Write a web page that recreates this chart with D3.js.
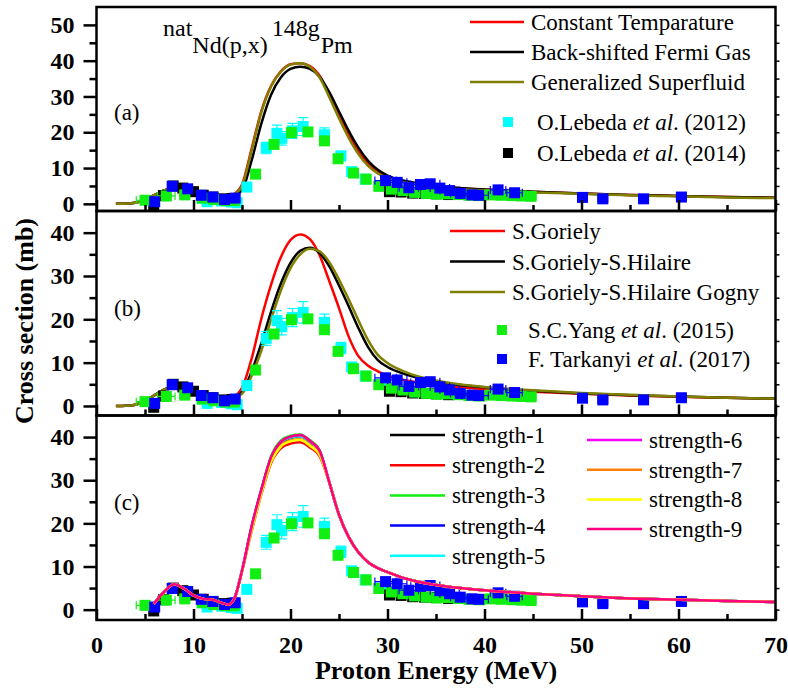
<!DOCTYPE html>
<html>
<head>
<meta charset="utf-8">
<script src="https://cdn.jsdelivr.net/npm/d3@7"></script>
<style>
  body { margin: 0; background: #fff; }
</style>
</head>
<body>
<div id="chart"></div>
<script>
// ---------------- data ----------------
// model curves, panels (a) and (b)
var gridAB = [2, 3, 4, 5, 6, 7, 8, 9, 10, 11, 12, 13, 14, 15, 16, 17, 18, 19, 20, 21, 22, 23, 24, 25, 26, 27, 28, 29, 30, 32, 35, 40, 45, 50, 55, 60, 65, 70]

var constTempY = [0, 0.05, 0.3, 1.2, 2.5, 3.8, 4.6, 4.0, 3.0, 2.3, 1.8, 1.6, 2.4, 5.4, 15.5, 26.0, 33.0, 37.0, 39.0, 39.3, 38.5, 35.8, 30.6, 24.8, 19.2, 14.6, 11.2, 9.0, 7.6, 6.1, 4.9, 4.0, 3.4, 2.9, 2.5, 2.2, 1.9, 1.7]
var bsfgY = [0, 0.05, 0.3, 1.2, 2.5, 3.8, 4.6, 4.0, 3.0, 2.3, 1.8, 1.6, 2.1, 3.8, 12.2, 22.5, 30.5, 35.3, 37.7, 38.3, 37.7, 35.5, 31.2, 25.8, 20.4, 15.7, 12.0, 9.5, 7.9, 6.3, 5.0, 4.0, 3.4, 2.9, 2.5, 2.2, 1.9, 1.7]
var gsmY = [0, 0.05, 0.3, 1.2, 2.5, 3.8, 4.6, 4.0, 3.0, 2.3, 1.8, 1.6, 2.3, 5.0, 15.0, 25.6, 32.8, 36.9, 38.9, 39.3, 38.3, 35.3, 29.8, 23.9, 18.4, 13.9, 10.6, 8.5, 7.2, 5.8, 4.6, 3.8, 3.2, 2.8, 2.4, 2.1, 1.8, 1.6]

var gorielyY = [0, 0.05, 0.3, 1.2, 2.5, 3.8, 4.6, 4.0, 3.0, 2.3, 1.8, 1.6, 2.0, 4.2, 11.0, 20.2, 28.0, 34.3, 38.3, 39.6, 38.5, 34.8, 28.8, 22.6, 16.0, 11.5, 9.3, 8.0, 7.0, 5.9, 4.9, 3.9, 3.3, 2.8, 2.4, 2.1, 1.9, 1.7]
var gorielyHilaireY = [0, 0.05, 0.3, 1.2, 2.5, 3.8, 4.6, 4.0, 3.0, 2.3, 1.8, 1.6, 1.9, 3.2, 8.0, 14.5, 21.8, 28.2, 33.0, 35.8, 36.5, 35.3, 32.2, 27.8, 23.0, 18.0, 13.6, 10.6, 9.0, 7.2, 5.6, 4.3, 3.5, 2.9, 2.5, 2.2, 1.9, 1.7]
var gognyY = [0, 0.05, 0.3, 1.2, 2.5, 3.8, 4.6, 4.0, 3.0, 2.3, 1.8, 1.6, 1.8, 2.8, 7.0, 12.8, 20.0, 26.6, 31.8, 35.0, 36.3, 35.7, 33.2, 29.2, 24.6, 19.8, 15.2, 11.8, 9.9, 7.7, 5.9, 4.4, 3.6, 3.0, 2.6, 2.2, 1.9, 1.7]

// model curves, panel (c): shared low / tail parts, peak part per strength
var gridC = [5.9, 7, 8, 9, 10, 11, 12, 13, 13.6, 14.2, 15, 16, 17, 18, 19, 20, 21, 22, 23, 24, 25, 26, 27, 28, 29, 30, 32, 35, 40, 45, 50, 55, 60, 65, 70]
var strengthLow = [1.3, 4.2, 5.9, 4.9, 3.3, 2.5, 2.3, 1.5, 1.2, 2.5, 9.0]            // 5.9 .. 15
var strengthPeak = [                                                            // 16 .. 23
  [19.0, 27.5, 35.0, 38.6, 39.8, 40.2, 38.8, 36.5],
  [18.3, 26.8, 34.0, 37.4, 38.5, 38.8, 37.6, 35.6],
  [19.5, 28.0, 35.6, 39.2, 40.3, 40.6, 39.3, 37.0],
  [19.2, 27.7, 35.2, 38.8, 40.0, 40.4, 39.0, 36.7],
  [19.1, 27.6, 35.1, 38.7, 39.9, 40.2, 38.9, 36.6],
  [19.3, 27.8, 35.3, 38.9, 40.1, 40.5, 39.1, 36.8],
  [18.7, 27.2, 34.5, 38.0, 39.2, 39.5, 38.2, 36.0],
  [18.5, 27.0, 34.3, 37.8, 39.0, 39.3, 38.0, 35.9],
  [19.3, 27.8, 35.3, 38.9, 40.1, 40.5, 39.1, 36.8]
]
var strengthTail = [29.5, 22.0, 16.8, 13.3, 11.0, 9.6, 8.7, 7.1, 5.7, 4.5, 3.7, 3.1, 2.6, 2.3, 2.0, 1.8]  // 24 .. 70
var strengthNames = ['strength-1', 'strength-2', 'strength-3', 'strength-4', 'strength-5', 'strength-6', 'strength-7', 'strength-8', 'strength-9']
var strengthColors = ['#000000', '#ff0000', '#11ee11', '#0000ff', '#00ffff', '#ff00ff', '#ff8000', '#ffff00', '#ff0080']

// experimental data
var lebeda2012E = [10.9, 11.4, 12.9, 13.9, 14.5, 15.5, 17.5, 18.6, 19.1, 20.2, 21.3, 23.5, 25.2, 26.3, 27.7, 29.3, 30.9]
var lebeda2012Y = [1.6, 0.6, 0.8, 0.5, 0.3, 4.7, 15.6, 19.7, 18.3, 20.4, 21.6, 19.3, 13.4, 9.0, 6.9, 5.0, 4.2]
var lebeda2012Err = [0.2, 0.1, 0.1, 0.1, 0.1, 0.5, 1.6, 2.3, 1.9, 2.1, 2.5, 1.9, 1.3, 0.9, 0.7, 0.5, 0.4]

var lebeda2014E = [5.9, 6.9, 7.9, 8.9, 10.0, 11.0, 12.0, 13.0, 14.0, 30.2, 31.4, 32.6, 33.8, 35.0, 36.3]
var lebeda2014Y = [-0.3, 2.3, 5.0, 4.4, 3.4, 2.4, 1.9, 1.4, 1.5, 3.4, 3.3, 3.0, 2.9, 2.8, 2.6]

var yang2015E = [5.0, 7.2, 9.1, 10.9, 12.1, 13.3, 14.2, 16.4, 18.3, 20.1, 21.8, 23.5, 24.9, 26.5, 27.8, 29.1, 30.4, 31.6, 32.8, 34.0, 35.1, 36.2, 37.3, 38.4, 39.5, 40.6, 41.7, 42.8, 43.8, 44.8]
var yang2015Y = [1.0, 2.2, 2.5, 1.6, 1.2, 0.9, 0.9, 8.3, 16.6, 19.9, 20.1, 17.6, 12.6, 8.6, 6.9, 4.9, 4.1, 3.7, 3.2, 2.9, 2.7, 2.8, 2.6, 2.4, 2.3, 2.5, 2.4, 2.3, 2.2, 2.1]
var yang2015XErr = [0.9, 0.9, 0.5, 0.4, 0.4, 0.3, 0.3, 0.3, 0.3, 0.3, 0.3, 0.3, 0.3, 0.3, 0.3, 0.4, 0.5, 0.5, 0.5, 0.5, 0.5, 0.5, 0.5, 0.5, 0.5, 0.5, 0.5, 0.5, 0.5, 0.5]

var tarkanyi2017E = [6.0, 7.8, 9.4, 10.8, 12.0, 13.2, 14.3, 29.8, 31.0, 32.2, 33.4, 34.4, 35.4, 36.4, 37.5, 38.7, 39.4, 41.4, 43.1, 50.1, 52.2, 56.4, 60.3]
var tarkanyi2017Y = [0.6, 4.9, 4.2, 2.4, 1.9, 1.2, 1.6, 6.5, 6.0, 4.5, 5.4, 5.6, 4.4, 3.7, 2.9, 2.5, 2.4, 3.9, 3.1, 1.8, 1.4, 1.4, 1.9]
var tarkanyi2017XErr = [0.4, 0.4, 0.4, 0.4, 0.4, 0.4, 0.4, 1.1, 1.0, 1.0, 1.0, 1.0, 1.0, 1.0, 1.0, 1.0, 1.0, 0.8, 0.8, 0.5, 0.5, 0.5, 0.5]

// ---------------- layout ----------------
var FONT = "'Liberation Serif'"
var W = 788, H = 689
var x = d3.scaleLinear().domain([0, 70]).range([96.5, 775.5])

var svg = d3.select('#chart').append('svg').attr('width', W).attr('height', H)
  .style('font-family', FONT)

var panels = [
  { top: 7, bottom: 211, domain: [-2, 55], majors: [0, 10, 20, 30, 40, 50], label: '(a)', labelY: 120 },
  { top: 211, bottom: 415.5, domain: [-2.2, 45], majors: [0, 10, 20, 30, 40], label: '(b)', labelY: 316 },
  { top: 415.5, bottom: 620, domain: [-2.4, 45], majors: [0, 10, 20, 30, 40], label: '(c)', labelY: 510 }
]

var experiments = [
  { E: lebeda2012E, v: lebeda2012Y, yErr: lebeda2012Err, color: '#00ffff' },
  { E: lebeda2014E, v: lebeda2014Y, color: '#000000' },
  { E: yang2015E, v: yang2015Y, xErr: yang2015XErr, color: '#11ee11' },
  { E: tarkanyi2017E, v: tarkanyi2017Y, xErr: tarkanyi2017XErr, color: '#0000ff' }
]

function txt(sel, size, bold) {
  return sel.style('font-family', FONT).style('font-size', size + 'px')
    .style('font-weight', bold ? 'bold' : 'normal').attr('fill', '#000')
}

function drawCurve(g, y, grid, vals, color) {
  var line = d3.line()
    .x(d => x(d[0]))
    .y(d => y(d[1]))
    .curve(d3.curveMonotoneX)
  g.append('path')
    .datum(d3.zip(grid, vals))
    .attr('d', line)
    .attr('fill', 'none')
    .attr('stroke', color)
    .attr('stroke-width', 2.5)
}

function drawPoints(g, y) {
  var s = 11
  experiments.forEach(ex => {
    var pts = ex.E.map((e, i) => ({ e: e, v: ex.v[i], ye: ex.yErr ? ex.yErr[i] : 0, xe: ex.xErr ? ex.xErr[i] : 0 }))
    var grp = g.append('g')
    if (ex.yErr) {
      grp.selectAll('.ey').data(pts).enter().append('path')
        .attr('d', d => 'M' + x(d.e) + ',' + y(d.v - d.ye) + 'V' + y(d.v + d.ye) +
          'M' + (x(d.e) - 5) + ',' + y(d.v + d.ye) + 'h10' +
          'M' + (x(d.e) - 5) + ',' + y(d.v - d.ye) + 'h10')
        .attr('stroke', ex.color).attr('stroke-width', 1.2).attr('fill', 'none')
    }
    if (ex.xErr) {
      grp.selectAll('.ex').data(pts).enter().append('path')
        .attr('d', d => 'M' + x(d.e - d.xe) + ',' + y(d.v) + 'H' + x(d.e + d.xe) +
          'M' + x(d.e - d.xe) + ',' + (y(d.v) - 4) + 'v8' +
          'M' + x(d.e + d.xe) + ',' + (y(d.v) - 4) + 'v8')
        .attr('stroke', ex.color).attr('stroke-width', 1.2).attr('fill', 'none')
    }
    grp.selectAll('rect').data(pts).enter().append('rect')
      .attr('x', d => x(d.e) - s / 2)
      .attr('y', d => y(d.v) - s / 2)
      .attr('width', s).attr('height', s)
      .attr('fill', ex.color)
  })
}

function lineLegend(g, items, x0, x1, y0, dy) {
  items.forEach((it, i) => {
    var yy = y0 + i * dy
    g.append('line').attr('x1', x0).attr('x2', x1).attr('y1', yy).attr('y2', yy)
      .attr('stroke', it.color).attr('stroke-width', 2.5)
    txt(g.append('text'), 23).attr('x', x1 + 7).attr('y', yy + 8).text(it.name)
  })
}

function pointLegend(g, items, xs, xt, y0, dy) {
  items.forEach((it, i) => {
    var yy = y0 + i * dy
    g.append('rect').attr('x', xs - 5).attr('y', yy - 5).attr('width', 10).attr('height', 10)
      .attr('fill', it.color)
    var t = txt(g.append('text'), 23).attr('x', xt).attr('y', yy + 8)
    t.append('tspan').text(it.name + ' ')
    t.append('tspan').style('font-style', 'italic').text('et al')
    t.append('tspan').text('. (' + it.year + ')')
  })
}

panels.forEach((p, pi) => {
  var y = d3.scaleLinear().domain(p.domain).range([p.bottom, p.top])
  var g = svg.append('g')

  // curves + points
  if (pi === 0) {
    drawCurve(g, y, gridAB, constTempY, '#ff0000')
    drawCurve(g, y, gridAB, bsfgY, '#000000')
    drawCurve(g, y, gridAB, gsmY, '#808000')
    drawPoints(g, y)
  } else if (pi === 1) {
    drawCurve(g, y, gridAB, gorielyY, '#ff0000')
    drawCurve(g, y, gridAB, gorielyHilaireY, '#000000')
    drawCurve(g, y, gridAB, gognyY, '#808000')
    drawPoints(g, y)
  } else {
    drawPoints(g, y)
    strengthPeak.forEach((pk, i) => {
      drawCurve(g, y, gridC, strengthLow.concat(pk, strengthTail), strengthColors[i])
    })
  }

  // left axis: majors with labels, minors without
  var minors = d3.range(5, p.domain[1], 10)
  g.append('g').attr('transform', 'translate(96.5,0)')
    .call(d3.axisLeft(y).tickValues(p.majors).tickSize(13).tickPadding(9).tickFormat(d3.format('d')))
    .call(a => a.select('.domain').remove())
    .call(a => a.selectAll('line').attr('stroke-width', 2.5))
    .call(a => txt(a.selectAll('text'), 24, true))
  g.append('g').attr('transform', 'translate(96.5,0)')
    .call(d3.axisLeft(y).tickValues(minors).tickSize(7).tickFormat(''))
    .call(a => a.select('.domain').remove())
    .call(a => a.selectAll('line').attr('stroke-width', 2.5))

  // right axis: short outward ticks
  g.append('g').attr('transform', 'translate(775.5,0)')
    .call(d3.axisRight(y).tickValues(d3.range(0, p.domain[1], 5)).tickSize(4).tickFormat(''))
    .call(a => a.select('.domain').remove())
    .call(a => a.selectAll('line').attr('stroke-width', 1.5))

  // bottom axis: inward ticks
  g.append('g').attr('transform', 'translate(0,' + p.bottom + ')')
    .call(d3.axisBottom(x).tickValues(d3.range(0, 71, 10)).tickSizeInner(-11).tickSizeOuter(0).tickPadding(16)
      .tickFormat(pi === 2 ? d3.format('d') : ''))
    .call(a => a.select('.domain').remove())
    .call(a => a.selectAll('line').attr('stroke-width', 2.5))
    .call(a => txt(a.selectAll('text'), 24, true))
  g.append('g').attr('transform', 'translate(0,' + p.bottom + ')')
    .call(d3.axisBottom(x).tickValues(d3.range(5, 70, 10)).tickSizeInner(-6).tickSizeOuter(0).tickFormat(''))
    .call(a => a.select('.domain').remove())
    .call(a => a.selectAll('line').attr('stroke-width', 2.5))

  // frame
  g.append('rect')
    .attr('x', 96.5).attr('y', p.top)
    .attr('width', 775.5 - 96.5).attr('height', p.bottom - p.top)
    .attr('fill', 'none').attr('stroke', '#000').attr('stroke-width', 2.5)

  txt(g.append('text'), 23).attr('x', 114).attr('y', p.labelY).text(p.label)

  // legends
  if (pi === 0) {
    lineLegend(g, [
      { name: 'Constant Temparature', color: '#ff0000' },
      { name: 'Back-shifted Fermi Gas', color: '#000000' },
      { name: 'Generalized Superfluid', color: '#808000' }
    ], 470, 524, 22, 30)
    pointLegend(g, [
      { name: 'O.Lebeda', year: '2012', color: '#00ffff' },
      { name: 'O.Lebeda', year: '2014', color: '#000000' }
    ], 508, 537, 122, 31)
  } else if (pi === 1) {
    lineLegend(g, [
      { name: 'S.Goriely', color: '#ff0000' },
      { name: 'S.Goriely-S.Hilaire', color: '#000000' },
      { name: 'S.Goriely-S.Hilaire Gogny', color: '#808000' }
    ], 450, 505, 231, 30.5)
    pointLegend(g, [
      { name: 'S.C.Yang', year: '2015', color: '#11ee11' },
      { name: 'F. Tarkanyi', year: '2017', color: '#0000ff' }
    ], 502, 528, 330, 29)
  } else {
    lineLegend(g, strengthNames.slice(0, 5).map((n, i) => ({ name: n, color: strengthColors[i] })),
      390, 445, 435, 30.2)
    lineLegend(g, strengthNames.slice(5).map((n, i) => ({ name: n, color: strengthColors[i + 5] })),
      587, 642, 440, 29.7)
  }
})

// reaction title
var title = txt(svg.append('text'), 24).attr('x', 163)
title.append('tspan').attr('y', 36).text('nat')
title.append('tspan').attr('y', 53).text('Nd(p,x)')
title.append('tspan').attr('y', 36).attr('dx', 4).text('148g')
title.append('tspan').attr('y', 53).attr('dx', 1).text('Pm')

// axis titles
txt(svg.append('text'), 26, true)
  .attr('transform', 'translate(33,321) rotate(-90)')
  .attr('text-anchor', 'middle')
  .text('Cross section (mb)')

txt(svg.append('text'), 26, true)
  .attr('x', 436).attr('y', 679)
  .attr('text-anchor', 'middle')
  .text('Proton Energy (MeV)')
</script>
</body>
</html>
